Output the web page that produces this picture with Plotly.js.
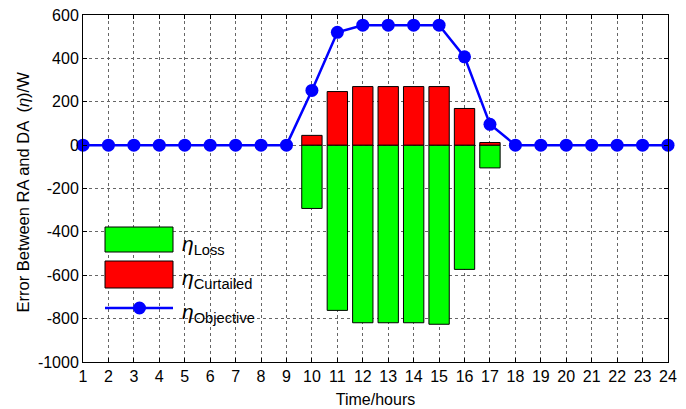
<!DOCTYPE html>
<html>
<head>
<meta charset="utf-8">
<script src="https://cdn.plot.ly/plotly-3.0.1.min.js"></script>
<style>html,body{margin:0;padding:0;background:#fff;}#chart{width:686px;height:409px;}</style>
</head>
<body>
<div id="chart"></div>
<script>
const hours = [1,2,3,4,5,6,7,8,9,10,11,12,13,14,15,16,17,18,19,20,21,22,23,24];
const etaObjective = [0,0,0,0,0,0,0,0,0,252,520,553,553,553,553,407,96,0,0,0,0,0,0,0];
const barHours = [10,11,12,13,14,15,16,17];
const etaCurtailed = [45,247,270,270,270,270,169,12];
const etaLoss = [-292,-762,-819,-819,-819,-826,-573,-105];
const yTickVals = [-1000,-800,-600,-400,-200,0,200,400,600];
const yTickText = ["-1000","-800","-600","-400","-200","0","200","400","600"];
const legendLabels = ["<i>η</i><sub>Loss</sub>","<i>η</i><sub>Curtailed</sub>","<i>η</i><sub>Objective</sub>"];
const yTitle = 'Error Between RA and DA \u00a0(<i>η</i>)/W';

const W = 686, H = 409;
const L = 83, R = 18, T = 15, B = 47;
const pw = W - L - R, ph = H - T - B;
const px = x => (x - L) / pw;
const py = y => (H - B - y) / ph;

const traces = [
  {type:'bar', x: barHours, y: etaLoss, width:0.8, name:'Loss',
   marker:{color:'#00ff00', line:{color:'#000', width:1}}},
  {type:'bar', x: barHours, y: etaCurtailed, width:0.8, name:'Curtailed',
   marker:{color:'#ff0000', line:{color:'#000', width:1}}},
  {type:'scatter', mode:'lines+markers', x: hours, y: etaObjective, name:'Objective',
   line:{color:'#0000ff', width:2.5}, marker:{color:'#0000ff', size:13}, cliponaxis:false}
];

const FAM = 'Arial, Liberation Sans, sans-serif';
const axisFont = {family:FAM, size:16, color:'#000'};
const shapes = [
  {type:'rect', xref:'paper', yref:'paper', x0:px(105), x1:px(173), y0:py(252), y1:py(227),
   fillcolor:'#00ff00', line:{color:'#000', width:1}},
  {type:'rect', xref:'paper', yref:'paper', x0:px(105), x1:px(173), y0:py(288), y1:py(261),
   fillcolor:'#ff0000', line:{color:'#000', width:1}},
  {type:'line', xref:'paper', yref:'paper', x0:px(105), x1:px(173), y0:py(308), y1:py(308),
   line:{color:'#0000ff', width:2.5}},
  {type:'circle', xref:'paper', yref:'paper', x0:px(133), x1:px(146), y0:py(314.5), y1:py(301.5),
   fillcolor:'#0000ff', line:{color:'#0000ff', width:0}}
];
const annY = [245, 279, 313];
const annotations = legendLabels.map((t,i)=>({
  text:t, xref:'paper', yref:'paper', x:px(180), y:py(annY[i]), xanchor:'left', yanchor:'middle',
  showarrow:false, font:{family:FAM, size:21, color:'#000'}
}));
annotations.push({
  text:yTitle, xref:'paper', yref:'paper', x:px(22.5), y:py(192), xanchor:'center', yanchor:'middle',
  textangle:-90, showarrow:false, font:{family:FAM, size:16.5, color:'#000'}
});

const layout = {
  width:W, height:H,
  margin:{l:L, r:R, t:T, b:B, pad:0},
  paper_bgcolor:'#fff', plot_bgcolor:'#fff',
  showlegend:false,
  barmode:'overlay',
  font: axisFont,
  xaxis:{
    range:[1,24], tickvals:hours, ticktext:hours.map(String),
    showline:true, linecolor:'#000', linewidth:1, mirror:'allticks',
    ticks:'inside', ticklen:4, tickcolor:'#000',
    showgrid:true, gridcolor:'#666', griddash:'dot', gridwidth:1,
    zeroline:false, tickfont:axisFont,
    title:{text:'Time/hours', font:axisFont, standoff:9}
  },
  yaxis:{
    range:[-1000,600], tickvals:yTickVals, ticktext:yTickText,
    showline:true, linecolor:'#000', linewidth:1, mirror:'allticks',
    ticks:'inside', ticklen:4, tickcolor:'#000',
    showgrid:true, gridcolor:'#666', griddash:'dot', gridwidth:1,
    zeroline:false, tickfont:axisFont
  },
  shapes: shapes,
  annotations: annotations
};

Plotly.newPlot('chart', traces, layout, {displayModeBar:false, staticPlot:true});
</script>
</body>
</html>
